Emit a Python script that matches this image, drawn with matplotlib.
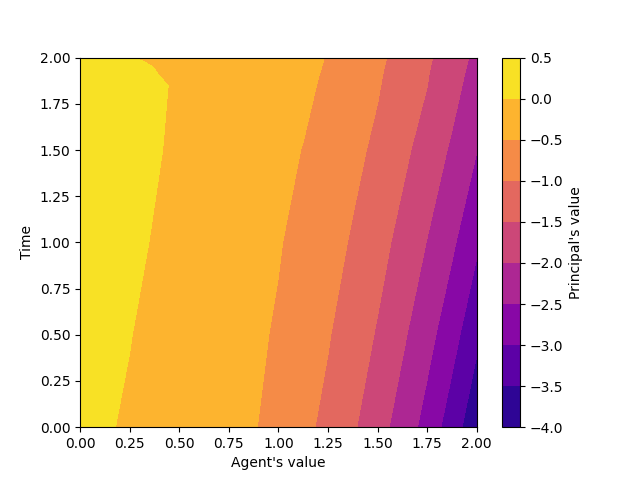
import numpy as np
import matplotlib
matplotlib.use("Agg")
import matplotlib.pyplot as plt

# grid
agent_value = [0.0, 0.25, 0.5, 0.75, 0.875, 1.0, 1.125, 1.25, 1.375, 1.5, 1.625, 1.75, 1.875, 2.0]
time = [0.0, 0.5, 1.0, 1.5, 1.85, 1.9, 1.95, 1.98, 2.0]

# principal's value, one row per time
principal_value = [
    [0.10, -0.04, -0.16, -0.33, -0.47, -0.67, -0.89, -1.12, -1.44, -1.81, -2.217, -2.68, -3.26, -3.85],
    [0.15, 0.01, -0.17, -0.35, -0.42, -0.55, -0.766, -0.968, -1.244, -1.545, -1.924, -2.333, -2.81, -3.40],
    [0.20, 0.07, -0.11, -0.29, -0.38, -0.47, -0.646, -0.838, -1.045, -1.33, -1.647, -2.016, -2.42, -2.92],
    [0.25, 0.12, -0.06, -0.24, -0.33, -0.41, -0.51, -0.70, -0.89, -1.09, -1.39, -1.71, -2.07, -2.49],
    [0.29, 0.14, -0.04, -0.22, -0.30, -0.375, -0.43, -0.56, -0.76, -0.965, -1.23, -1.495, -1.84, -2.23],
    [0.30, 0.12, -0.08, -0.23, -0.31, -0.38, -0.43, -0.54, -0.74, -0.95, -1.21, -1.48, -1.81, -2.20],
    [0.30, 0.08, -0.09, -0.24, -0.32, -0.385, -0.44, -0.52, -0.73, -0.93, -1.18, -1.455, -1.78, -2.16],
    [0.30, 0.05, -0.13, -0.246, -0.326, -0.382, -0.44, -0.514, -0.724, -0.918, -1.162, -1.44, -1.762, -2.136],
    [0.30, 0.01, -0.12, -0.25, -0.33, -0.38, -0.44, -0.51, -0.72, -0.91, -1.15, -1.43, -1.75, -2.12],
]

levels = [-4.0, -3.5, -3.0, -2.5, -2.0, -1.5, -1.0, -0.5, 0.0, 0.5]

fig, ax = plt.subplots(figsize=(6.4, 4.8), dpi=100)
cs = ax.contourf(agent_value, time, np.array(principal_value), levels=levels, cmap="plasma")
cbar = fig.colorbar(cs, ax=ax)
cbar.set_label("Principal's value")
ax.set_xlabel("Agent's value")
ax.set_ylabel("Time")

fig.savefig("out.png")
